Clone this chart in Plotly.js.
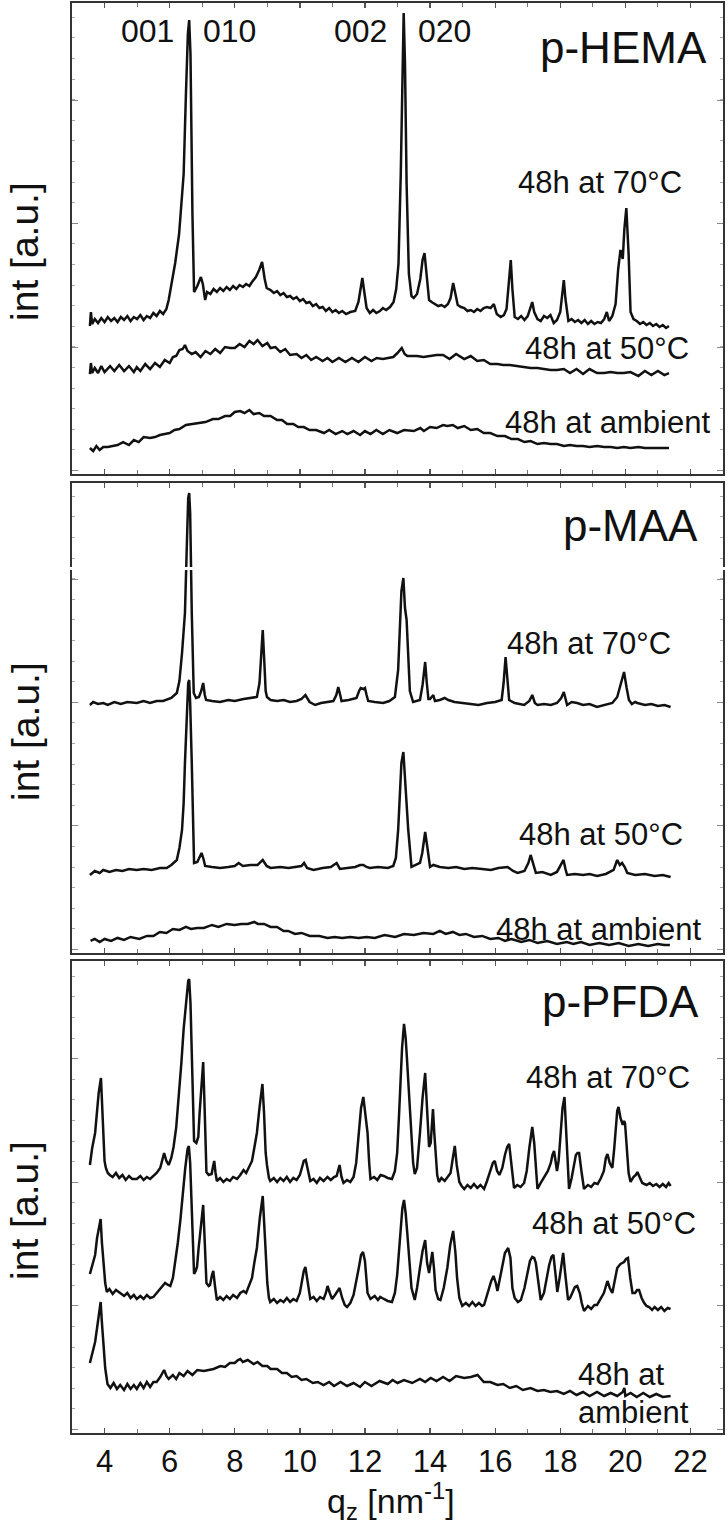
<!DOCTYPE html>
<html>
<head>
<meta charset="utf-8">
<script src="https://cdn.plot.ly/plotly-3.0.1.min.js"></script>
<style>html,body{margin:0;padding:0;background:#fff}#chart{width:728px;height:1527px}</style>
</head>
<body>
<div id="chart"></div>
<script>
// x: q_z [nm^-1]; y: intensity (arbitrary units, offset per curve as in the figure)
const hema70 = [[3.55,148],[3.58,162],[3.62,150],[3.7,155],[3.8,151],[3.9,156],[4.0,152],[4.1,157],[4.2,153],[4.3,156],[4.4,152],[4.5,157],[4.6,154],[4.7,158],[4.8,153],[4.9,157],[5.0,155],[5.1,159],[5.2,154],[5.3,158],[5.4,156],[5.5,161],[5.6,158],[5.7,163],[5.8,160],[5.9,165],[5.97,174],[6.07,191],[6.17,211],[6.29,240],[6.43,300],[6.5,380],[6.56,440],[6.6,454],[6.64,420],[6.7,260],[6.75,182],[6.85,188],[6.96,197],[7.02,190],[7.09,174],[7.15,182],[7.25,180],[7.35,185],[7.45,182],[7.55,186],[7.65,183],[7.75,187],[7.85,184],[7.95,188],[8.05,185],[8.15,189],[8.25,187],[8.35,190],[8.45,188],[8.53,192],[8.65,197],[8.75,204],[8.84,212],[8.92,195],[8.98,186],[9.1,184],[9.2,181],[9.3,183],[9.4,179],[9.5,181],[9.6,177],[9.7,178],[9.8,175],[9.9,177],[10.0,173],[10.1,175],[10.2,171],[10.3,172],[10.4,168],[10.5,170],[10.6,166],[10.7,167],[10.8,163],[10.9,166],[11.0,162],[11.1,164],[11.2,161],[11.3,163],[11.42,160],[11.55,162],[11.7,163],[11.8,172],[11.86,185],[11.92,196],[11.98,182],[12.05,166],[12.15,161],[12.25,164],[12.35,161],[12.46,163],[12.55,166],[12.65,164],[12.77,167],[12.88,172],[12.96,185],[13.03,210],[13.1,300],[13.15,420],[13.19,461],[13.23,410],[13.28,290],[13.35,200],[13.43,178],[13.5,176],[13.6,180],[13.7,195],[13.77,214],[13.83,221],[13.9,195],[13.97,174],[14.05,172],[14.15,170],[14.25,168],[14.35,169],[14.45,167],[14.55,170],[14.63,176],[14.71,191],[14.78,178],[14.85,169],[14.95,167],[15.05,166],[15.15,163],[15.25,164],[15.35,162],[15.45,165],[15.55,163],[15.65,166],[15.75,167],[15.86,166],[15.96,170],[16.05,160],[16.17,157],[16.27,159],[16.35,165],[16.43,200],[16.48,214],[16.53,185],[16.6,157],[16.7,155],[16.8,158],[16.9,154],[17.0,158],[17.08,166],[17.14,172],[17.2,162],[17.3,155],[17.4,153],[17.5,158],[17.6,156],[17.7,159],[17.8,151],[17.9,154],[18.0,162],[18.07,185],[18.11,194],[18.16,175],[18.25,153],[18.35,155],[18.45,152],[18.55,154],[18.65,151],[18.75,154],[18.85,150],[18.95,153],[19.05,150],[19.15,152],[19.25,151],[19.35,155],[19.43,162],[19.5,153],[19.6,158],[19.7,170],[19.78,205],[19.85,224],[19.92,215],[19.97,245],[20.03,266],[20.1,220],[20.16,162],[20.25,155],[20.35,153],[20.45,150],[20.55,152],[20.65,149],[20.75,151],[20.85,148],[20.95,150],[21.05,147],[21.15,149],[21.25,146],[21.34,148]];
const hema50 = [[3.55,100],[3.58,111],[3.62,101],[3.7,106],[3.8,101],[3.9,108],[4.0,102],[4.17,108],[4.3,103],[4.45,109],[4.6,103],[4.75,108],[4.9,102],[4.99,107],[5.1,103],[5.25,110],[5.4,105],[5.55,111],[5.7,107],[5.85,114],[6.0,111],[6.1,117],[6.2,118],[6.3,124],[6.4,125],[6.47,129],[6.55,123],[6.68,120],[6.8,122],[6.95,117],[7.1,123],[7.25,120],[7.4,125],[7.55,121],[7.7,127],[7.86,126],[8.0,126],[8.15,130],[8.3,127],[8.45,133],[8.58,130],[8.7,134],[8.85,128],[9.0,131],[9.1,126],[9.25,127],[9.4,122],[9.55,125],[9.7,119],[9.9,120],[10.05,116],[10.2,119],[10.35,114],[10.5,117],[10.7,113],[10.85,116],[11.0,112],[11.2,116],[11.4,112],[11.6,116],[11.8,112],[12.0,117],[12.2,113],[12.36,116],[12.55,115],[12.7,116],[12.87,117],[13.0,121],[13.13,126],[13.22,120],[13.3,118],[13.45,118],[13.6,118],[13.8,117],[14.02,118],[14.2,119],[14.4,119],[14.6,115],[14.8,120],[15.05,115],[15.25,118],[15.45,113],[15.65,114],[15.85,110],[16.07,110],[16.25,109],[16.45,109],[16.65,108],[16.85,107],[17.09,106],[17.3,106],[17.5,105],[17.7,104],[17.9,104],[18.11,105],[18.3,101],[18.5,105],[18.7,100],[18.9,105],[19.13,101],[19.35,101],[19.55,102],[19.75,101],[19.95,101],[20.16,102],[20.4,98],[20.6,103],[20.8,99],[21.0,103],[21.2,99],[21.34,101]];
const hemaAmb = [[3.55,26],[3.65,23],[3.75,28],[3.85,24],[3.96,27],[4.1,27],[4.25,28],[4.4,29],[4.57,32],[4.75,29],[4.9,34],[5.05,32],[5.2,37],[5.4,36],[5.55,37],[5.7,39],[5.85,40],[6.0,41],[6.15,44],[6.3,45],[6.5,49],[6.72,50],[6.9,51],[7.1,52],[7.33,55],[7.5,55],[7.7,58],[7.86,58],[8.0,62],[8.17,63],[8.3,61],[8.45,64],[8.58,60],[8.75,61],[8.9,58],[9.1,58],[9.3,54],[9.45,54],[9.61,50],[9.8,50],[9.95,47],[10.12,47],[10.3,44],[10.5,44],[10.74,41],[10.9,44],[11.1,40],[11.3,43],[11.46,40],[11.65,43],[11.85,39],[12.0,43],[12.17,40],[12.35,44],[12.55,40],[12.75,44],[12.99,41],[13.2,44],[13.5,43],[13.7,46],[13.81,43],[14.0,47],[14.2,46],[14.4,49],[14.53,48],[14.7,49],[14.85,46],[15.05,48],[15.25,44],[15.45,45],[15.65,41],[15.85,41],[16.07,38],[16.3,38],[16.5,35],[16.7,35],[16.9,32],[17.09,33],[17.3,30],[17.5,31],[17.7,30],[17.9,30],[18.11,28],[18.3,29],[18.5,28],[18.7,28],[18.9,27],[19.13,28],[19.35,27],[19.55,27],[19.75,26],[19.95,27],[20.16,26],[20.4,27],[20.6,26],[20.8,26],[21.0,26],[21.2,26],[21.34,26]];

const maa70 = [[3.55,248],[3.65,251],[3.8,249],[3.96,250],[4.1,248],[4.3,251],[4.5,249],[4.7,251],[4.99,250],[5.2,252],[5.4,250],[5.6,252],[5.8,252],[5.91,253],[6.05,255],[6.22,260],[6.3,272],[6.38,300],[6.47,340],[6.53,410],[6.57,455],[6.6,460],[6.63,440],[6.68,340],[6.74,260],[6.81,255],[6.9,256],[6.97,262],[7.03,270],[7.08,258],[7.12,253],[7.3,252],[7.55,251],[7.8,253],[8.0,252],[8.27,254],[8.5,255],[8.68,256],[8.76,270],[8.81,300],[8.86,323],[8.91,290],[8.95,262],[8.99,256],[9.1,253],[9.3,252],[9.5,253],[9.7,251],[9.9,252],[10.05,254],[10.17,258],[10.3,251],[10.47,248],[10.65,250],[10.85,251],[11.03,252],[11.12,258],[11.18,266],[11.24,258],[11.28,252],[11.5,253],[11.74,255],[11.82,262],[11.87,265],[11.95,264],[12.0,265],[12.05,258],[12.1,252],[12.3,251],[12.56,250],[12.75,252],[12.92,256],[13.02,283],[13.08,330],[13.12,362],[13.18,375],[13.23,345],[13.28,333],[13.33,300],[13.38,262],[13.48,251],[13.6,252],[13.69,253],[13.77,268],[13.85,291],[13.9,270],[13.95,254],[14.0,254],[14.1,258],[14.15,252],[14.3,253],[14.45,255],[14.56,253],[14.75,251],[14.97,250],[15.2,249],[15.49,248],[15.75,250],[16.0,251],[16.2,253],[16.26,270],[16.32,296],[16.38,270],[16.43,253],[16.6,250],[16.89,248],[17.05,252],[17.14,258],[17.22,250],[17.3,248],[17.5,249],[17.71,248],[17.9,250],[18.03,255],[18.11,261],[18.17,252],[18.21,248],[18.35,251],[18.52,250],[18.7,248],[18.9,249],[19.13,246],[19.4,248],[19.6,250],[19.75,256],[19.85,268],[19.96,281],[20.04,265],[20.11,253],[20.2,249],[20.3,251],[20.37,250],[20.6,248],[20.8,249],[21.0,247],[21.2,248],[21.39,246]];
const maa50 = [[3.55,78],[3.7,82],[3.85,80],[3.96,83],[4.15,81],[4.35,83],[4.55,82],[4.75,84],[4.99,83],[5.2,84],[5.45,83],[5.7,85],[5.91,85],[6.05,88],[6.22,93],[6.3,105],[6.38,123],[6.43,150],[6.47,190],[6.52,235],[6.57,270],[6.6,273],[6.63,250],[6.68,190],[6.72,120],[6.75,90],[6.85,91],[6.92,96],[6.98,100],[7.04,94],[7.09,87],[7.3,86],[7.55,85],[7.8,86],[8.0,87],[8.12,90],[8.25,87],[8.48,88],[8.7,88],[8.86,93],[8.98,87],[9.1,85],[9.4,86],[9.65,85],[9.9,86],[10.05,87],[10.13,90],[10.22,85],[10.42,83],[10.7,85],[10.95,86],[11.13,90],[11.23,84],[11.45,85],[11.7,86],[11.85,88],[11.95,88],[12.05,86],[12.15,85],[12.4,86],[12.7,85],[12.87,87],[12.95,95],[13.02,123],[13.08,160],[13.12,190],[13.18,201],[13.24,170],[13.33,123],[13.43,86],[13.55,88],[13.69,90],[13.76,100],[13.85,121],[13.92,105],[14.0,86],[14.1,88],[14.3,86],[14.56,85],[14.8,86],[15.05,84],[15.3,85],[15.6,84],[15.87,83],[16.1,85],[16.38,86],[16.55,82],[16.69,80],[16.9,82],[17.02,90],[17.09,98],[17.17,88],[17.25,80],[17.45,81],[17.71,78],[17.9,81],[18.03,88],[18.1,93],[18.16,84],[18.21,78],[18.45,79],[18.7,78],[18.9,79],[19.13,77],[19.4,79],[19.64,83],[19.75,93],[19.83,88],[19.9,90],[19.98,86],[20.06,80],[20.3,78],[20.6,79],[20.9,77],[21.15,78],[21.39,76]];
const maaAmb = [[3.57,12],[3.7,14],[3.85,11],[4.0,14],[4.2,12],[4.4,15],[4.6,13],[4.8,16],[5.07,14],[5.3,17],[5.5,17],[5.7,21],[5.9,20],[6.1,24],[6.3,23],[6.5,26],[6.65,24],[6.85,25],[7.05,25],[7.3,28],[7.5,26],[7.75,29],[8.0,28],[8.2,29],[8.4,29],[8.6,31],[8.71,29],[8.9,29],[9.1,26],[9.3,26],[9.5,22],[9.64,22],[9.85,19],[10.05,20],[10.3,17],[10.6,17],[10.85,15],[11.07,16],[11.3,15],[11.55,16],[11.8,15],[12.05,16],[12.3,15],[12.6,18],[12.93,16],[13.2,19],[13.5,18],[13.8,20],[14.1,19],[14.3,22],[14.48,19],[14.7,21],[14.9,18],[15.1,19],[15.35,16],[15.6,17],[15.85,14],[16.1,15],[16.3,12],[16.5,14],[16.8,11],[17.05,13],[17.3,10],[17.6,12],[17.9,9],[18.2,11],[18.4,9],[18.64,11],[18.9,8],[19.2,10],[19.5,8],[19.8,10],[20.1,7],[20.4,9],[20.7,7],[21.0,9],[21.2,8],[21.37,8]];

const pfda70 = [[3.55,268],[3.62,285],[3.71,300],[3.77,320],[3.82,340],[3.89,355],[3.93,320],[3.96,290],[4.0,272],[4.04,265],[4.1,260],[4.16,258],[4.25,256],[4.35,260],[4.45,255],[4.55,258],[4.65,253],[4.75,257],[4.85,254],[4.99,254],[5.1,257],[5.2,253],[5.3,256],[5.4,254],[5.5,257],[5.6,260],[5.71,265],[5.78,275],[5.83,280],[5.9,272],[5.97,268],[6.05,275],[6.12,286],[6.2,305],[6.28,334],[6.36,370],[6.43,404],[6.5,430],[6.57,452],[6.6,454],[6.64,430],[6.68,380],[6.72,320],[6.75,292],[6.82,290],[6.88,296],[6.92,320],[6.96,340],[7.0,365],[7.03,371],[7.07,330],[7.1,285],[7.13,261],[7.2,258],[7.29,259],[7.33,266],[7.37,272],[7.41,260],[7.45,252],[7.55,255],[7.65,251],[7.75,254],[7.85,252],[7.95,256],[8.07,254],[8.17,258],[8.27,263],[8.35,260],[8.45,266],[8.53,272],[8.6,285],[8.68,300],[8.76,325],[8.85,349],[8.9,320],[8.95,280],[8.99,268],[9.05,255],[9.09,252],[9.2,255],[9.3,251],[9.4,255],[9.5,252],[9.6,256],[9.7,251],[9.8,255],[9.9,253],[10.0,258],[10.07,266],[10.12,272],[10.18,273],[10.25,262],[10.32,252],[10.42,254],[10.52,250],[10.62,255],[10.73,252],[10.85,256],[10.95,253],[11.05,256],[11.13,257],[11.22,268],[11.28,256],[11.34,250],[11.45,253],[11.55,251],[11.65,256],[11.73,270],[11.81,300],[11.88,325],[11.95,336],[12.01,320],[12.08,300],[12.13,270],[12.17,254],[12.28,256],[12.38,253],[12.48,258],[12.58,257],[12.7,255],[12.83,254],[12.92,262],[12.99,280],[13.05,320],[13.09,350],[13.14,385],[13.2,409],[13.25,395],[13.28,380],[13.35,345],[13.43,300],[13.48,270],[13.53,259],[13.6,265],[13.69,300],[13.77,335],[13.85,360],[13.91,320],[13.97,286],[14.02,290],[14.06,310],[14.09,324],[14.13,300],[14.17,275],[14.22,258],[14.27,251],[14.35,255],[14.45,252],[14.55,256],[14.63,260],[14.7,275],[14.76,287],[14.82,268],[14.9,251],[14.97,247],[15.05,244],[15.15,248],[15.25,245],[15.35,249],[15.45,245],[15.55,248],[15.66,244],[15.75,252],[15.87,265],[15.93,270],[15.99,272],[16.06,262],[16.13,258],[16.22,265],[16.3,278],[16.37,286],[16.43,289],[16.5,270],[16.58,245],[16.68,248],[16.78,246],[16.89,250],[16.97,262],[17.05,285],[17.1,300],[17.14,306],[17.2,290],[17.25,265],[17.3,244],[17.4,250],[17.5,255],[17.62,262],[17.71,270],[17.76,278],[17.81,282],[17.86,270],[17.9,262],[17.95,272],[18.01,300],[18.07,325],[18.13,336],[18.19,300],[18.24,260],[18.27,244],[18.35,255],[18.43,268],[18.48,278],[18.53,280],[18.58,280],[18.65,262],[18.73,244],[18.85,248],[18.95,246],[19.05,250],[19.15,249],[19.25,255],[19.34,262],[19.4,275],[19.45,279],[19.52,270],[19.6,265],[19.66,285],[19.71,310],[19.75,322],[19.79,326],[19.85,315],[19.92,308],[19.96,312],[19.99,310],[20.05,285],[20.1,260],[20.16,251],[20.25,256],[20.32,258],[20.37,261],[20.45,255],[20.52,250],[20.65,248],[20.75,250],[20.85,247],[20.95,249],[21.05,246],[21.15,249],[21.25,246],[21.33,250],[21.39,247]];
const pfda50 = [[3.55,159],[3.62,168],[3.71,178],[3.77,195],[3.82,205],[3.88,214],[3.92,190],[3.96,170],[4.02,150],[4.07,141],[4.15,144],[4.25,139],[4.35,143],[4.48,140],[4.6,137],[4.7,140],[4.8,135],[4.9,138],[4.99,134],[5.1,137],[5.2,134],[5.3,138],[5.4,135],[5.5,136],[5.6,140],[5.7,144],[5.76,146],[5.86,150],[5.95,148],[6.02,147],[6.1,155],[6.17,170],[6.25,190],[6.33,213],[6.4,240],[6.48,265],[6.55,284],[6.59,287],[6.63,270],[6.66,245],[6.7,200],[6.75,159],[6.8,162],[6.84,166],[6.89,185],[6.94,200],[7.0,222],[7.03,228],[7.08,190],[7.13,150],[7.2,147],[7.24,148],[7.3,158],[7.34,162],[7.4,145],[7.45,133],[7.55,136],[7.65,133],[7.75,137],[7.85,134],[7.95,138],[8.07,135],[8.17,140],[8.27,142],[8.35,140],[8.45,148],[8.53,155],[8.6,170],[8.68,185],[8.77,215],[8.86,237],[8.92,200],[8.97,160],[9.0,150],[9.05,135],[9.09,131],[9.2,134],[9.3,130],[9.4,133],[9.5,131],[9.6,135],[9.7,131],[9.8,134],[9.9,132],[10.0,140],[10.07,152],[10.12,162],[10.17,166],[10.24,150],[10.32,134],[10.42,136],[10.52,132],[10.62,136],[10.73,134],[10.8,140],[10.85,147],[10.92,140],[10.99,134],[11.08,138],[11.15,142],[11.22,145],[11.3,135],[11.38,128],[11.45,126],[11.55,130],[11.65,138],[11.73,150],[11.81,165],[11.88,178],[11.94,181],[12.0,172],[12.05,155],[12.08,140],[12.17,134],[12.3,137],[12.4,133],[12.47,136],[12.58,134],[12.7,132],[12.83,131],[12.92,140],[12.99,158],[13.05,185],[13.09,205],[13.15,225],[13.2,233],[13.25,220],[13.3,200],[13.37,170],[13.43,145],[13.53,133],[13.6,145],[13.69,165],[13.77,182],[13.85,193],[13.91,170],[13.97,160],[14.02,170],[14.07,181],[14.12,165],[14.17,143],[14.25,134],[14.32,133],[14.42,145],[14.53,165],[14.62,188],[14.71,202],[14.78,180],[14.83,155],[14.9,135],[14.99,127],[15.1,130],[15.2,127],[15.3,131],[15.4,127],[15.5,130],[15.6,127],[15.66,128],[15.75,138],[15.81,145],[15.88,152],[15.95,157],[16.02,150],[16.07,142],[16.15,155],[16.22,168],[16.3,180],[16.4,185],[16.47,175],[16.53,145],[16.6,135],[16.7,131],[16.79,133],[16.9,145],[16.99,160],[17.07,172],[17.14,176],[17.2,175],[17.25,170],[17.32,150],[17.4,133],[17.5,140],[17.58,155],[17.66,168],[17.73,176],[17.79,178],[17.85,160],[17.91,141],[17.98,155],[18.04,172],[18.09,180],[18.15,160],[18.24,133],[18.3,135],[18.37,140],[18.45,146],[18.52,147],[18.6,140],[18.66,130],[18.73,122],[18.85,127],[18.95,124],[19.05,128],[19.13,128],[19.22,133],[19.34,140],[19.45,152],[19.52,145],[19.6,140],[19.68,155],[19.75,165],[19.85,169],[19.96,171],[20.02,174],[20.08,175],[20.15,155],[20.22,140],[20.3,140],[20.36,143],[20.42,143],[20.5,135],[20.58,130],[20.65,127],[20.73,126],[20.82,123],[20.9,126],[21.0,123],[21.1,126],[21.2,122],[21.3,125],[21.39,124]];
const pfdaAmb = [[3.55,70],[3.62,80],[3.71,91],[3.77,105],[3.82,118],[3.88,131],[3.92,110],[3.96,90],[4.02,65],[4.09,49],[4.18,45],[4.28,50],[4.38,44],[4.48,48],[4.6,43],[4.7,49],[4.8,44],[4.9,48],[4.99,44],[5.1,50],[5.2,45],[5.3,51],[5.4,46],[5.5,51],[5.6,51],[5.71,56],[5.78,60],[5.83,63],[5.9,57],[5.97,54],[6.1,58],[6.2,54],[6.3,60],[6.43,57],[6.55,62],[6.7,58],[6.85,63],[7.05,62],[7.2,63],[7.35,64],[7.56,67],[7.7,66],[7.85,70],[8.0,70],[8.1,73],[8.17,74],[8.25,71],[8.4,73],[8.58,69],[8.7,71],[8.85,67],[9.0,67],[9.1,64],[9.3,64],[9.45,60],[9.6,60],[9.75,56],[9.9,57],[10.05,53],[10.2,54],[10.4,50],[10.55,51],[10.73,48],[10.9,51],[11.05,47],[11.25,51],[11.45,47],[11.65,50],[11.85,46],[12.0,51],[12.2,47],[12.45,52],[12.7,49],[12.85,53],[13.0,50],[13.2,53],[13.45,50],[13.69,54],[13.85,51],[14.02,55],[14.2,52],[14.4,56],[14.6,52],[14.8,57],[15.05,55],[15.25,56],[15.46,58],[15.65,51],[15.85,51],[16.07,48],[16.25,49],[16.45,45],[16.65,47],[16.85,43],[17.09,45],[17.3,42],[17.5,43],[17.7,41],[17.9,42],[18.11,39],[18.3,42],[18.5,38],[18.7,41],[18.9,37],[19.13,41],[19.35,37],[19.55,40],[19.75,37],[19.92,41],[19.97,45],[20.0,37],[20.16,40],[20.35,36],[20.55,40],[20.75,36],[20.95,39],[21.15,36],[21.39,37]];

const xTickVals = [4,6,8,10,12,14,16,18,20,22];
const xTickText = ['4','6','8','10','12','14','16','18','20','22'];

const panelNames = ['p-HEMA','p-MAA','p-PFDA'];
const reflexLabels = ['001','010','002','020'];
const reflexPos = [5.33,7.85,11.85,14.43];

function tr(d, ya){
  return {x:d.map(p=>p[0]), y:d.map(p=>p[1]), xaxis: ya==='y'?'x':'x'+ya.slice(1), yaxis: ya,
    type:'scatter', mode:'lines', line:{color:'#111', width:2.5}, hoverinfo:'skip', showlegend:false};
}
const data = [tr(hema70,'y'),tr(hema50,'y'),tr(hemaAmb,'y'),
  tr(maa70,'y2'),tr(maa50,'y2'),tr(maaAmb,'y2'),
  tr(pfda70,'y3'),tr(pfda50,'y3'),tr(pfdaAmb,'y3')];

const F = 'Liberation Sans, Arial, sans-serif';
function xax(anchor, labels){
  return {anchor:anchor, range:[3,23], showgrid:false, zeroline:false, showline:true, mirror:'ticks',
    linecolor:'#333', linewidth:2, ticks:'inside', ticklen:5, tickwidth:1.3, tickcolor:'#555',
    tickmode:'array', tickvals:xTickVals, ticktext:xTickText, showticklabels:labels,
    minor:{ticks:'inside', dtick:1, tick0:3, ticklen:4, tickwidth:1, tickcolor:'#777'},
    tickfont:{family:F, size:31, color:'#111'}};
}
function yax(dom, top, anchor){
  return {domain:dom, anchor:anchor, range:[0,top], showgrid:false, zeroline:false, showline:true, mirror:'ticks',
    linecolor:'#333', linewidth:2, ticks:'inside', ticklen:6, tickwidth:1, tickcolor:'#888',
    tick0:3.5, dtick:123.5, showticklabels:false,
    minor:{ticks:'inside', ticklen:3, tickcolor:'#aaa', dtick:20.6, tick0:3.5}};
}
function ann(text, x, y, yref, size, xanchor){
  return {text:text, x:x, y:y, xref:yref==='y'?'x':'x'+yref.slice(1), yref:yref, showarrow:false,
    xanchor:xanchor||'center', yanchor:'middle', font:{family:F, size:size, color:'#111'}};
}
const annotations = [
  ann(panelNames[0], 22.57, 427, 'y', 44, 'right'),
  ann(panelNames[1], 22.29, 428, 'y2', 44, 'right'),
  ann(panelNames[2], 22.32, 431, 'y3', 44, 'right'),
  ann('48h at 70°C', 19.22, 292, 'y', 31),
  ann('48h at 50°C', 19.44, 126, 'y', 31),
  ann('48h at ambient', 19.44, 52, 'y', 31),
  ann('48h at 70°C', 18.88, 310, 'y2', 31),
  ann('48h at 50°C', 19.24, 118, 'y2', 31),
  ann('48h at ambient', 19.16, 23, 'y2', 31),
  ann('48h at 70°C', 19.47, 355, 'y3', 31),
  ann('48h at 50°C', 19.65, 209, 'y3', 31),
  ann('48h at', 18.48, 58, 'y3', 31, 'left'),
  ann('ambient', 18.48, 20, 'y3', 31, 'left')
];
reflexLabels.forEach((t,i)=>annotations.push(ann(t, reflexPos[i], 443, 'y', 32)));
[0.8266,0.4909,0.156].forEach(yc=>annotations.push({text:'int [a.u.]', xref:'paper', yref:'paper', x:-0.0722, y:yc,
  textangle:-90, showarrow:false, xanchor:'center', yanchor:'middle', font:{family:F, size:39, color:'#111'}}));
annotations.push({text:'q<sub>z</sub> [nm<sup>-1</sup>]', xref:'paper', yref:'paper', x:0.49, y:-0.0475,
  showarrow:false, xanchor:'center', yanchor:'middle', font:{family:F, size:34, color:'#111'}});

const layout = {
  width:728, height:1527, margin:{l:72, r:5, t:3, b:94}, paper_bgcolor:'#fff', plot_bgcolor:'#fff',
  xaxis:xax('y', false), xaxis2:xax('y2', false), xaxis3:xax('y3', true),
  yaxis:yax([0.6706,1],471,'x'), yaxis2:yax([0.3357,0.6643],470,'x2'), yaxis3:yax([0,0.3301],472,'x3'),
  annotations:annotations,
  shapes:[{type:'rect', xref:'paper', yref:'y2', x0:-0.01, x1:1.01, y0:383, y1:386, fillcolor:'#fff', line:{width:0}, layer:'above'}]
};
Plotly.newPlot('chart', data, layout, {staticPlot:true, displayModeBar:false});
</script>
</body>
</html>
